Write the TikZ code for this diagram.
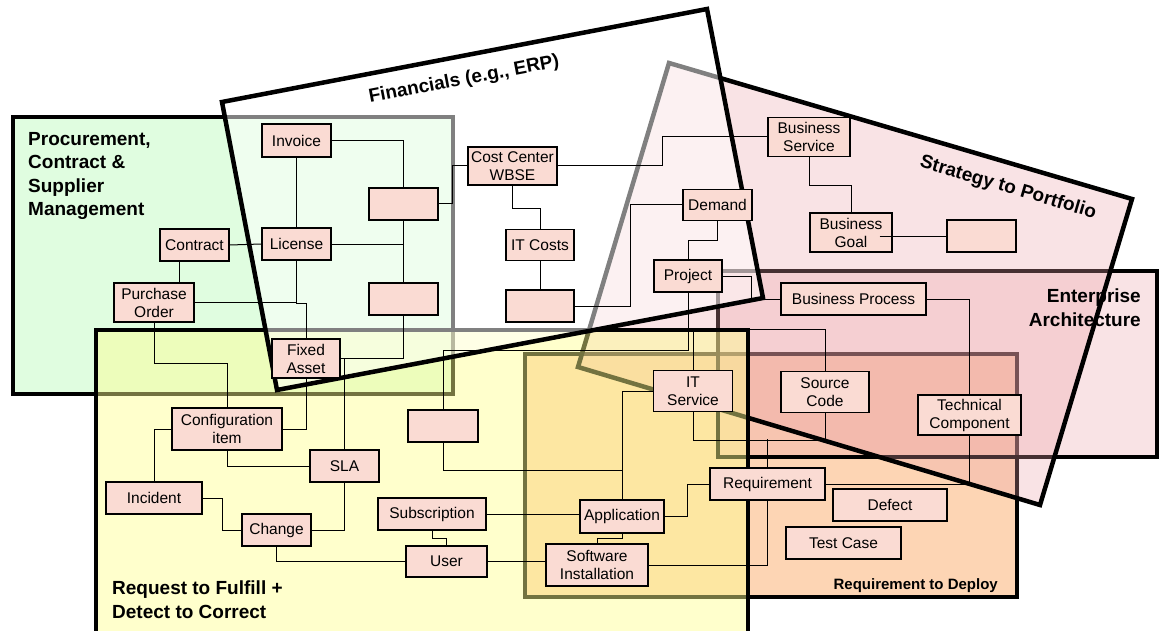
\documentclass[tikz,border=0pt]{standalone}
\usepackage{fontspec}
\setmainfont{Liberation Sans}
\definecolor{procgreen}{RGB}{224,253,224}
\definecolor{rtdpeach}{RGB}{253,213,180}
\definecolor{eapink}{RGB}{235,162,168}
\definecolor{stratpink}{RGB}{235,162,168}
\definecolor{reqyellow}{RGB}{255,255,142}
\definecolor{boxpink}{RGB}{250,219,211}

\begin{document}
\begin{tikzpicture}[x=1pt, y=-1pt,
  zone/.style={draw=black, line width=4.5pt},
  box/.style={draw=black, fill=boxpink, line width=1.3pt, inner sep=0pt, align=center, font=\fontsize{15.5}{18}\selectfont},
  link/.style={draw=black, line width=1pt},
  zonetext/.style={inner sep=0pt, font=\bfseries\fontsize{19}{23.5}\selectfont}]
  \useasboundingbox (0,0) rectangle (1159,631);
  \path[zone, fill=procgreen] (13,117) rectangle (453,394);
  \node[zonetext, anchor=north west, align=left] (proctext) at (28,132) {Procurement,\\Contract \&\\Supplier\\Management};
  \path[zone, fill=rtdpeach] (525,354) rectangle (1017,597);
  \node[zonetext, anchor=base east, font=\bfseries\fontsize{15}{18}\selectfont] (rtdtext) at (998,589) {Requirement to Deploy};
  \path[zone, fill=eapink, fill opacity=0.3] (718,271) rectangle (1157,457);
  \fill[stratpink, fill opacity=0.3] (669,63) -- (1132,199) -- (1040,505) -- (578,367) -- cycle;
  \node[zonetext, anchor=north east, align=right] (eatext) at (1141,289) {Enterprise\\Architecture};
  \draw[zone] (669,63) -- (1132,199) -- (1040,505) -- (578,367) -- cycle;
  \node[zonetext, rotate=-16.4] (strattext) at (1008,188) {Strategy to Portfolio};
  \path[zone, fill=reqyellow, fill opacity=0.45] (96,330) rectangle (748,645);
  \node[zonetext, anchor=north west, align=left] (reqtext) at (112,581) {Request to Fulfill +\\Detect to Correct};
  \path[zone, fill=white, fill opacity=0.5] (222,102) -- (707,9) -- (763,298) -- (277,390) -- cycle;
  \node[zonetext, rotate=10.85] (fintext) at (464,80) {Financials (e.g., ERP)};

  \node[box, minimum width=69, minimum height=33] (invoice) at (296.5,140.5) {Invoice};
  \node[box, minimum width=69, minimum height=32] (blankA) at (403.5,204) {};
  \node[box, minimum width=89, minimum height=38] (costcenter) at (512.5,166) {Cost Center\\WBSE};
  \node[box, minimum width=69, minimum height=32] (license) at (296.5,244) {License};
  \node[box, minimum width=69, minimum height=32] (contract) at (194.5,245) {Contract};
  \node[box, minimum width=68, minimum height=31] (itcosts) at (540,245) {IT Costs};
  \node[box, minimum width=69, minimum height=32] (blankB) at (403.5,299) {};
  \node[box, minimum width=68, minimum height=32] (blankC) at (540,306) {};
  \node[box, minimum width=80, minimum height=39] (purchase) at (154,302.5) {Purchase\\Order};
  \node[box, minimum width=68, minimum height=39] (fixedasset) at (306,358.5) {Fixed\\Asset};
  \node[box, minimum width=82, minimum height=39] (bizservice) at (809,137) {Business\\Service};
  \node[box, minimum width=69, minimum height=31] (demand) at (717.5,205) {Demand};
  \node[box, minimum width=82, minimum height=39] (bizgoal) at (851,232.5) {Business\\Goal};
  \node[box, minimum width=69, minimum height=32] (blankD) at (981.5,236) {};
  \node[box, minimum width=68, minimum height=32] (project) at (688,276) {Project};
  \node[box, minimum width=145, minimum height=32] (bizprocess) at (853.5,299) {Business Process};
  \node[box, minimum width=110, minimum height=42] (config) at (227,429) {Configuration\\item};
  \node[box, minimum width=70, minimum height=32] (blankE) at (443,426) {};
  \node[box, minimum width=79, minimum height=41] (itservice) at (693,391) {IT\\Service};
  \node[box, minimum width=88, minimum height=41] (sourcecode) at (825,392) {Source\\Code};
  \node[box, minimum width=103, minimum height=40] (techcomp) at (969.5,415) {Technical\\Component};
  \node[box, minimum width=69, minimum height=32] (sla) at (344.5,466) {SLA};
  \node[box, minimum width=115, minimum height=32] (requirement) at (767.5,484) {Requirement};
  \node[box, minimum width=96, minimum height=32] (incident) at (154,498) {Incident};
  \node[box, minimum width=114, minimum height=32] (defect) at (890,505) {Defect};
  \node[box, minimum width=108, minimum height=32] (subscription) at (432,514) {Subscription};
  \node[box, minimum width=84, minimum height=33] (application) at (622,516.5) {Application};
  \node[box, minimum width=69, minimum height=32] (change) at (276.5,530) {Change};
  \node[box, minimum width=115, minimum height=32] (testcase) at (843.5,543) {Test Case};
  \node[box, minimum width=81, minimum height=31] (user) at (446.5,561.5) {User};
  \node[box, minimum width=102, minimum height=42] (swinstall) at (597,565) {Software\\Installation};

  \draw[link] (invoice.east) -| (blankA.north);
  \draw[link] (invoice.south) -- (license.north);
  \draw[link] (blankA.south) -- (blankB.north);
  \draw[link] (license.east) -- (license.east -| blankA.south);
  \draw[link] (blankA.east) -- ++(14,0) |- (costcenter.west);
  \draw[link] (contract.east) -- (license.west);
  \draw[link] ([xshift=-15.5pt]contract.south) -- ++(0,22);
  \draw[link] (license.south) -- ++(0,42.5) -| (fixedasset.north);
  \draw[link] (purchase.east) -- (purchase.east -| license.south);
  \draw[link] (blankB.south) |- (fixedasset.east);
  \draw[link] (sla.north |- fixedasset.east) -- (sla.north);
  \draw[link] (purchase.south) -- ++(0,41) -| (config.north);
  \draw[link] (fixedasset.south) |- (config.east);
  \draw[link] (config.south) |- (sla.west);
  \draw[link] (config.west) -| (incident.north);
  \draw[link] (incident.east) -- ++(20,0) |- (change.west);
  \draw[link] (sla.south) |- (change.east);
  \draw[link] (change.south) |- (user.west);
  \draw[link] (subscription.south) -- ++(0,8) -| (user.north);
  \draw[link] (subscription.east) -- (subscription.east -| application.west);
  \draw[link] (user.east) -- (user.east -| swinstall.west);
  \draw[link] (project.south) -- ++(0,58) -| (blankE.north);
  \draw[link] (itservice.west) -| (application.north);
  \draw[link] (blankE.south) -- ++(0,28) -| (application.north);
  \draw[link] (application.east) -- ++(23,0) |- (requirement.west);
  \draw[link] (application.south) -- ++(0,5) -| (swinstall.north);
  \draw[link] (itservice.north) -- ++(0,-40) -| (sourcecode.north);
  \draw[link] (itservice.south) -- ++(0,28) -| (sourcecode.south);
  \draw[link] (requirement.north) -- ++(0,-28);
  \draw[link] (requirement.south) |- (swinstall.east);
  \draw[link] (requirement.east) -| (techcomp.south);
  \draw[link] (bizprocess.east) -| (techcomp.north);
  \draw[link] (project.east) -- ++(29,0) |- (bizprocess.west);
  \draw[link] (demand.south) -- ++(0,19) -| (project.north);
  \draw[link] (blankC.east) -- ++(56,0) |- (demand.west);
  \draw[link] (costcenter.east) -- ++(105,0) |- (bizservice.west);
  \draw[link] (costcenter.south) -- ++(0,23) -| (itcosts.north);
  \draw[link] (itcosts.south) -- (blankC.north);
  \draw[link] (bizservice.south) -- ++(0,28) -| (bizgoal.north);
  \draw[link] ([xshift=-13pt]bizgoal.east |- blankD.west) -- (blankD.west);
\end{tikzpicture}
\end{document}
